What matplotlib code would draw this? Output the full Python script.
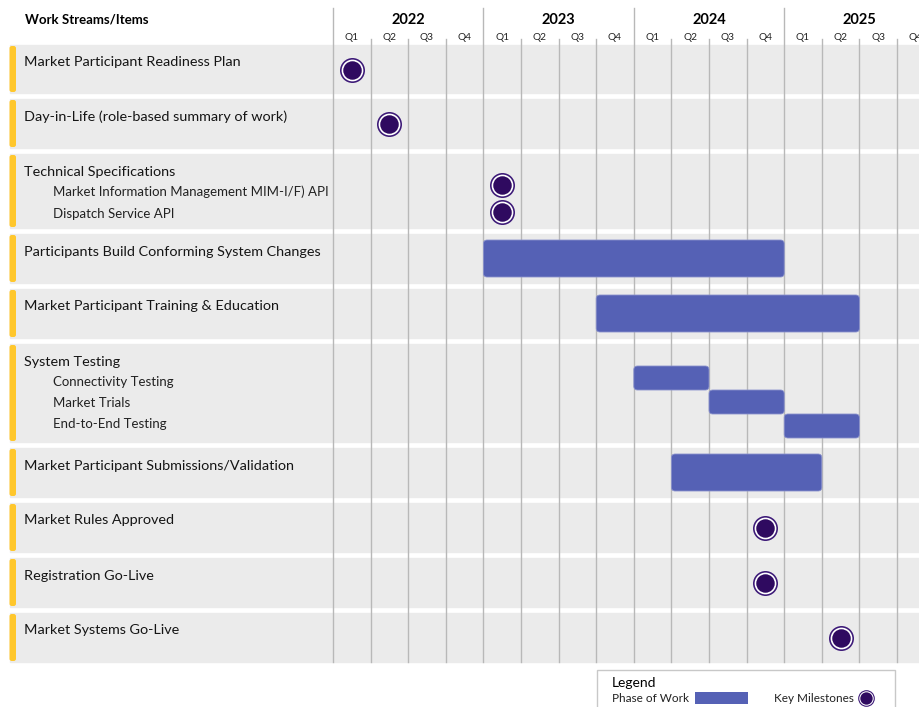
import matplotlib
matplotlib.use('Agg')
import matplotlib.pyplot as plt
from matplotlib.patches import FancyBboxPatch, Rectangle

plt.rcParams['font.family'] = ['Lato', 'DejaVu Sans']

# 数据
years = ["2022", "2023", "2024", "2025"]
quarters = ["Q1", "Q2", "Q3", "Q4"]

streams = ["Market Participant Readiness Plan",
           "Day-in-Life (role-based summary of work)",
           "Technical Specifications",
           "Participants Build Conforming System Changes",
           "Market Participant Training & Education",
           "System Testing",
           "Market Participant Submissions/Validation",
           "Market Rules Approved",
           "Registration Go-Live",
           "Market Systems Go-Live"]
tech_items = ["Market Information Management MIM-I/F) API", "Dispatch Service API"]
testing_items = ["Connectivity Testing", "Market Trials", "End-to-End Testing"]

# 工作阶段（季度编号，0 = 2022 Q1 开始）
phase_items = ["Participants Build Conforming System Changes",
               "Market Participant Training & Education",
               "Connectivity Testing", "Market Trials", "End-to-End Testing",
               "Market Participant Submissions/Validation"]
phase_start = [4, 7, 8, 10, 12, 9]
phase_end = [12, 14, 10, 12, 14, 13]

# 关键里程碑（所在季度编号）
milestone_items = ["Market Participant Readiness Plan",
                   "Day-in-Life (role-based summary of work)",
                   "Market Information Management MIM-I/F) API",
                   "Dispatch Service API",
                   "Market Rules Approved",
                   "Registration Go-Live",
                   "Market Systems Go-Live"]
milestone_q = [0, 1, 4, 4, 11, 11, 13]

# 布局（像素）
W, H = 920, 707
X0, QW = 333, 37.6
row_h = [48, 49, 74, 49, 49, 98, 49, 49, 49, 49]
gap = 6
top0 = 45
BAR_C = '#5561b5'
MS_C = '#2f0a60'
GRID_C = '#b8b8b8'


def px(x):
    return (x - X0) / QW


fig = plt.figure(figsize=(W / 100, H / 100), dpi=100)
ax = fig.add_axes([0, 0, 1, 1])
ax.set_xlim(px(0), px(W))
ax.set_ylim(H, 0)
ax.axis('off')

# 各行位置
item_y = {}
bar_h = {}
tops = []
t = top0
for name, h in zip(streams, row_h):
    tops.append(t)
    ax.add_patch(Rectangle((px(10), t), px(W + 5) - px(10), h, color='#ebebeb', zorder=0))
    ax.add_patch(FancyBboxPatch((px(9.5), t + 1), px(16) - px(9.5), h - 2,
                                boxstyle='round,pad=0,rounding_size=0.06', mutation_aspect=QW,
                                color='#ffc72c', ec='none', zorder=1))
    ax.text(px(24), t + 17.5, name, fontsize=10.4, va='center', ha='left', color='#151515')
    item_y[name] = t + 24.5
    bar_h[name] = 37
    t += h + gap

# 子项
for i, name in enumerate(tech_items):
    ax.text(px(53), tops[2] + 38 + 22 * i, name, fontsize=9.5, va='center', color='#222222')
    item_y[name] = tops[2] + 31 + 27 * i
for i, name in enumerate(testing_items):
    ax.text(px(53), tops[5] + 38 + 21 * i, name, fontsize=9.5, va='center', color='#222222')
    item_y[name] = tops[5] + 34 + 24 * i
    bar_h[name] = 24

# 网格线
bottom = top0 + sum(row_h) + gap * (len(row_h) - 1)
for q in range(16):
    y_top = 8 if q % 4 == 0 else 39
    ax.plot([q, q], [y_top, bottom], color=GRID_C, lw=1, zorder=2)

# 表头
ax.text(px(25), 20, "Work Streams/Items", fontsize=9.5, fontweight='bold', va='center')
for i, y in enumerate(years):
    ax.text(i * 4 + 2, 19.5, y, fontsize=10.5, fontweight='bold', ha='center', va='center')
    for j, q in enumerate(quarters):
        ax.text(i * 4 + j + 0.5, 37.5, q, fontsize=7.3, ha='center', va='center', color='#222222')

# 工作阶段条
for name, s, e in zip(phase_items, phase_start, phase_end):
    h = bar_h[name]
    ax.add_patch(FancyBboxPatch((s, item_y[name] - h / 2), e - s, h,
                                boxstyle='round,pad=0,rounding_size=0.1', mutation_aspect=QW,
                                fc=BAR_C, ec='#8a92cc', lw=0.6, zorder=3))


def milestone(x, y, size):
    ax.plot(x, y, 'o', ms=size, color='#3d1a78', mew=0, zorder=4)
    ax.plot(x, y, 'o', ms=size * 0.87, color='white', mew=0, zorder=5)
    ax.plot(x, y, 'o', ms=size * 0.74, color=MS_C, mew=0, zorder=6)


for name, q in zip(milestone_items, milestone_q):
    milestone(q + 0.5, item_y[name], 18)

# 图例
ax.add_patch(Rectangle((px(597), 670), px(895) - px(597), 45, fc='white', ec='#c8c8c8', lw=1, zorder=2))
ax.text(px(612), 683, "Legend", fontsize=10, va='center', zorder=7)
ax.text(px(612), 698, "Phase of Work", fontsize=8.5, va='center', color='#222222', zorder=7)
ax.add_patch(Rectangle((px(695), 692), px(748) - px(695), 12, fc=BAR_C, ec='none', zorder=7))
ax.text(px(774), 698, "Key Milestones", fontsize=8.5, va='center', color='#222222', zorder=7)
ax.plot(px(866), 698, 'o', ms=12, color='#3d1a78', mew=0, zorder=8)
ax.plot(px(866), 698, 'o', ms=10.4, color='white', mew=0, zorder=8)
ax.plot(px(866), 698, 'o', ms=8.9, color=MS_C, mew=0, zorder=8)

fig.savefig('out.png', dpi=100)
